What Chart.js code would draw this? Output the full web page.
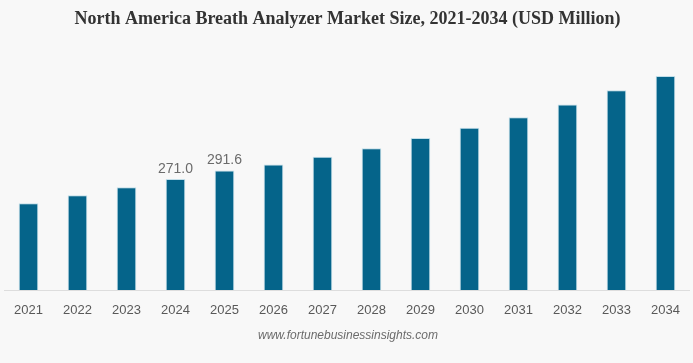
<!DOCTYPE html>
<html>
<head>
<meta charset="utf-8">
<script src="https://cdn.jsdelivr.net/npm/chart.js@4/dist/chart.umd.min.js"></script>
<style>
  html, body { margin: 0; padding: 0; background: #f8f8f8; }
  #wrap { position: relative; width: 693px; height: 363px; }
</style>
</head>
<body>
<div id="wrap"><canvas id="c" width="693" height="363"></canvas></div>
<script>
const titleText = "North America Breath Analyzer Market Size, 2021-2034 (USD Million)";
const sourceText = "www.fortunebusinessinsights.com";
const years = ["2021","2022","2023","2024","2025","2026","2027","2028","2029","2030","2031","2032","2033","2034"];
const marketSize = [211.5, 231.0, 250.7, 271.0, 291.6, 305.8, 325.3, 345.8, 371.0, 396.0, 421.4, 452.2, 487.3, 522.2];
const labelledYears = ["2024", "2025"];

const valueLabels = {
  id: 'valueLabels',
  afterDatasetsDraw(chart) {
    const ctx = chart.ctx;
    const meta = chart.getDatasetMeta(0);
    ctx.save();
    ctx.font = '14px "Liberation Sans", Arial, sans-serif';
    ctx.fillStyle = '#6b6b6b';
    ctx.textAlign = 'center';
    ctx.textBaseline = 'bottom';
    meta.data.forEach((bar, i) => {
      if (labelledYears.includes(years[i])) {
        ctx.fillText(marketSize[i].toFixed(1), bar.x, bar.y - 3);
      }
    });
    ctx.restore();
  }
};

const sourceNote = {
  id: 'sourceNote',
  afterDraw(chart) {
    const ctx = chart.ctx;
    ctx.save();
    ctx.font = 'italic 12px "Liberation Sans", Arial, sans-serif';
    ctx.fillStyle = '#6b6b6b';
    ctx.textAlign = 'center';
    ctx.textBaseline = 'middle';
    ctx.fillText(sourceText, 348, 336);
    ctx.restore();
  }
};

new Chart(document.getElementById('c'), {
  type: 'bar',
  data: {
    labels: years,
    datasets: [{
      data: marketSize,
      backgroundColor: '#05648a',
      borderColor: 'rgba(150,200,220,0.55)',
      borderWidth: 1,
      categoryPercentage: 1,
      barPercentage: 0.4
    }]
  },
  options: {
    responsive: false,
    animation: false,
    layout: { padding: { left: 4, right: 2, top: 0, bottom: 0 } },
    plugins: {
      legend: { display: false },
      tooltip: { enabled: false },
      title: {
        display: true,
        text: titleText,
        color: '#333333',
        font: { family: '"Liberation Serif", "Times New Roman", serif', size: 18, weight: 'bold' },
        padding: { top: 9, bottom: 13.4 }
      }
    },
    scales: {
      x: {
        grid: { display: false, drawTicks: false },
        border: { display: true, color: '#dddddd', width: 1 },
        ticks: {
          color: '#595959',
          font: { family: '"Liberation Sans", Arial, sans-serif', size: 13 },
          padding: 13,
          maxRotation: 0,
          autoSkip: false
        },
        afterFit(scale) { scale.height = 73; }
      },
      y: {
        display: false,
        min: 0,
        max: 600
      }
    }
  },
  plugins: [valueLabels, sourceNote]
});
</script>
</body>
</html>
